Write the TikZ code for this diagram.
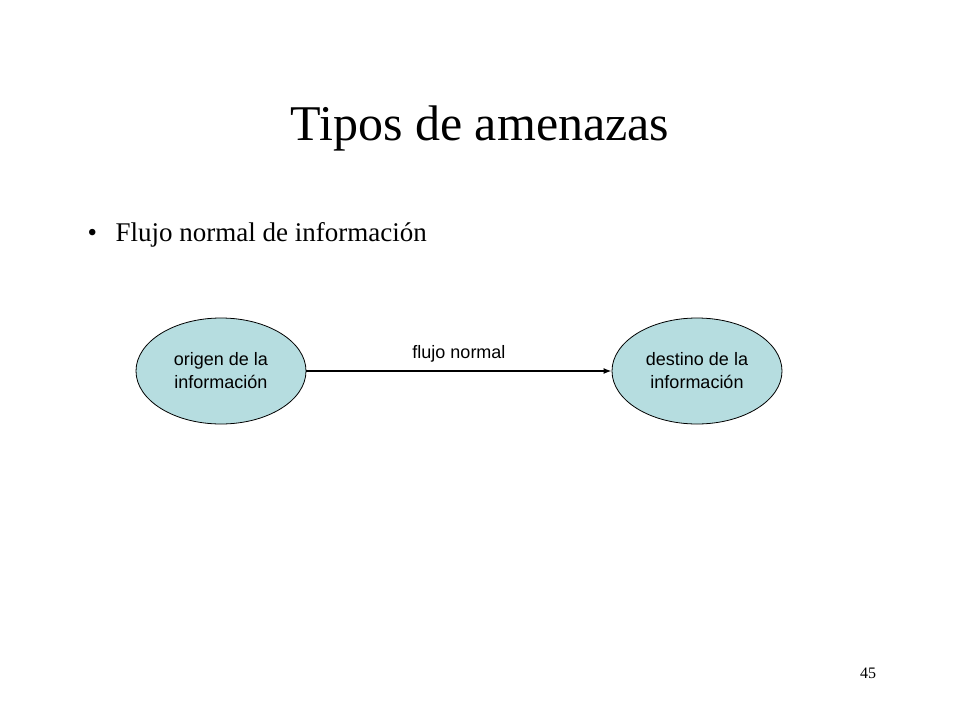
\documentclass[tikz,border=0pt]{standalone}
\usepackage{fontspec}
\setmainfont{Liberation Serif}
\newfontfamily\arialf{Liberation Sans}
\usetikzlibrary{shapes.geometric,arrows.meta}
\definecolor{ellfill}{HTML}{B6DDE0}
\tikzset{
  ell/.style={ellipse,draw=black,thick,fill=ellfill,minimum width=170pt,minimum height=106pt,inner sep=0pt,align=center,font=\arialf\fontsize{18}{23}\selectfont},
  flow/.style={-{Latex[length=8pt,width=6pt]},line width=2pt}
}
\begin{document}
\begin{tikzpicture}[x=1pt,y=-1pt]
\useasboundingbox (0,0) rectangle (960,720);
\fill[white] (0,0) rectangle (960,720);
\node (title) at (480,128) {\fontsize{50}{56}\selectfont Tipos de amenazas};
\node[anchor=west] (bul) at (84,235) {\fontsize{27}{32}\selectfont\textbullet};
\node[anchor=west] (sub) at (112,235) {\fontsize{27}{32}\selectfont Flujo normal de información};
\node[ell] (o) at (221,371) {origen de la\\información};
\node[ell] (d) at (697,371) {destino de la\\información};
\draw[flow] (o) -- (d) node[midway,above=4pt,font=\arialf\fontsize{18}{22}\selectfont] (lab) {flujo normal};
\node (pg) at (868,673) {\fontsize{16}{19}\selectfont 45};
\end{tikzpicture}
\end{document}
